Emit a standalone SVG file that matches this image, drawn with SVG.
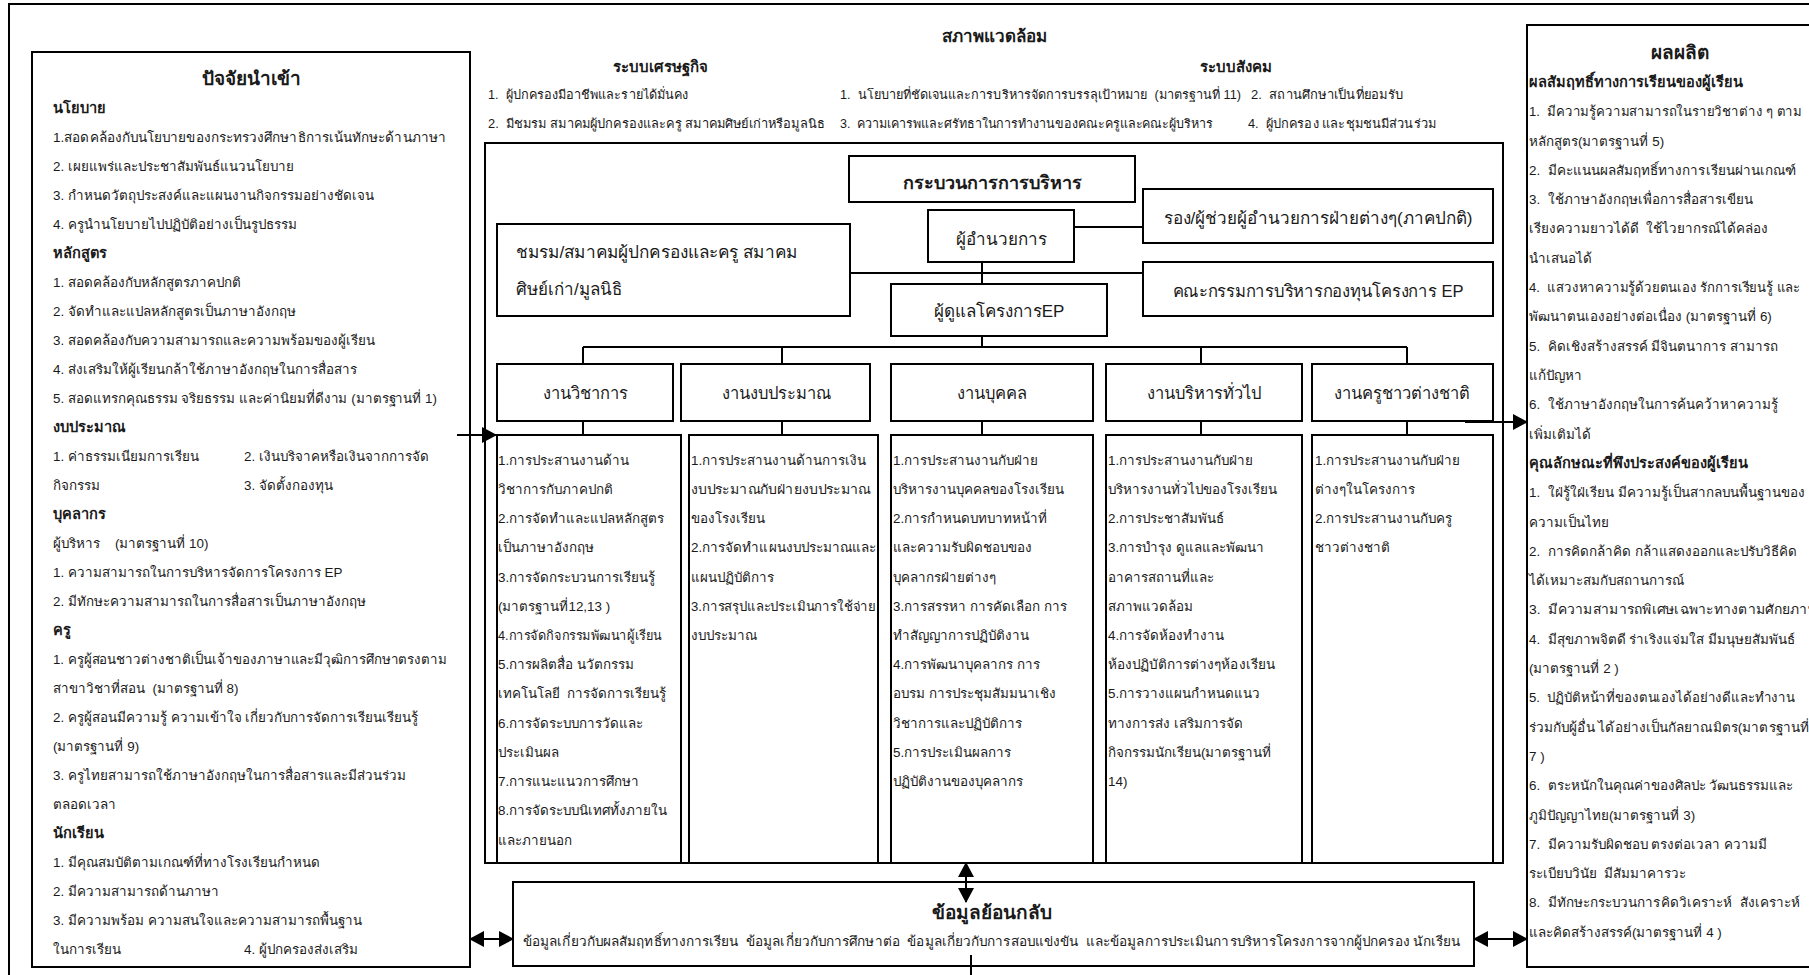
<svg xmlns="http://www.w3.org/2000/svg" width="1809" height="975" viewBox="0 0 1809 975">
<defs>
<style>
text{font-family:"Liberation Sans","Noto Sans",sans-serif;fill:#1a1a1a}
.t{font-size:13.4px}
.s{font-size:12.6px}
.h{font-size:14.6px;font-weight:bold}
.ttl{font-size:19px;font-weight:bold;text-anchor:middle}
.n{font-size:17px;text-anchor:middle}
.c{font-size:16.5px;text-anchor:middle}
.nl{font-size:17px}
.box{fill:#fff;stroke:#000;stroke-width:2}
.ln{stroke:#000;stroke-width:2;fill:none}
.ar{stroke:#000;stroke-width:2;fill:none;marker-end:url(#ah)}
.dar{stroke:#000;stroke-width:2;fill:none;marker-end:url(#ah);marker-start:url(#ah)}
</style>
<marker id="ah" markerUnits="userSpaceOnUse" markerWidth="15" markerHeight="16" refX="14" refY="8" orient="auto-start-reverse" viewBox="0 0 15 16">
<path d="M0,0 L15,8 L0,16 z" fill="#000"/>
</marker>
</defs>
<rect x="0" y="0" width="1809" height="975" fill="#fff"/>
<rect id="frame" x="9" y="4" width="1830" height="1000" class="box"/>

<g id="inputs">
<rect x="32" y="52" width="438" height="915" class="box"/>
<text x="251" y="85" class="ttl">ปัจจัยนำเข้า</text>
<text x="53" y="113" class="h">นโยบาย</text>
<text x="53" y="142" class="t" textLength="393" lengthAdjust="spacingAndGlyphs">1.สอดคล้องกับนโยบายของกระทรวงศึกษาธิการเน้นทักษะด้านภาษา</text>
<text x="53" y="171" class="t">2. เผยแพร่และประชาสัมพันธ์แนวนโยบาย</text>
<text x="53" y="200" class="t">3. กำหนดวัตถุประสงค์และแผนงานกิจกรรมอย่างชัดเจน</text>
<text x="53" y="229" class="t">4. ครูนำนโยบายไปปฏิบัติอย่างเป็นรูปธรรม</text>
<text x="53" y="258" class="h">หลักสูตร</text>
<text x="53" y="287" class="t">1. สอดคล้องกับหลักสูตรภาคปกติ</text>
<text x="53" y="316" class="t">2. จัดทำและแปลหลักสูตรเป็นภาษาอังกฤษ</text>
<text x="53" y="345" class="t">3. สอดคล้องกับความสามารถและความพร้อมของผู้เรียน</text>
<text x="53" y="374" class="t">4. ส่งเสริมให้ผู้เรียนกล้าใช้ภาษาอังกฤษในการสื่อสาร</text>
<text x="53" y="403" class="t" textLength="384" lengthAdjust="spacingAndGlyphs">5. สอดแทรกคุณธรรม จริยธรรม และค่านิยมที่ดีงาม (มาตรฐานที่ 1)</text>
<text x="53" y="432" class="h">งบประมาณ</text>
<text x="53" y="461" class="t">1. ค่าธรรมเนียมการเรียน</text>
<text x="244" y="461" class="t">2. เงินบริจาคหรือเงินจากการจัด</text>
<text x="53" y="490" class="t">กิจกรรม</text>
<text x="244" y="490" class="t">3. จัดตั้งกองทุน</text>
<text x="53" y="519" class="h">บุคลากร</text>
<text x="53" y="548" class="t" xml:space="preserve">ผู้บริหาร    (มาตรฐานที่ 10)</text>
<text x="53" y="577" class="t">1. ความสามารถในการบริหารจัดการโครงการ EP</text>
<text x="53" y="606" class="t">2. มีทักษะความสามารถในการสื่อสารเป็นภาษาอังกฤษ</text>
<text x="53" y="635" class="h">ครู</text>
<text x="53" y="664" class="t" textLength="394" lengthAdjust="spacingAndGlyphs">1. ครูผู้สอนชาวต่างชาติเป็นเจ้าของภาษาและมีวุฒิการศึกษาตรงตาม</text>
<text x="53" y="693" class="t" xml:space="preserve">สาขาวิชาที่สอน  (มาตรฐานที่ 8)</text>
<text x="53" y="722" class="t">2. ครูผู้สอนมีความรู้ ความเข้าใจ เกี่ยวกับการจัดการเรียนเรียนรู้</text>
<text x="53" y="751" class="t">(มาตรฐานที่ 9)</text>
<text x="53" y="780" class="t">3. ครูไทยสามารถใช้ภาษาอังกฤษในการสื่อสารและมีส่วนร่วม</text>
<text x="53" y="809" class="t">ตลอดเวลา</text>
<text x="53" y="838" class="h">นักเรียน</text>
<text x="53" y="867" class="t">1. มีคุณสมบัติตามเกณฑ์ที่ทางโรงเรียนกำหนด</text>
<text x="53" y="896" class="t">2. มีความสามารถด้านภาษา</text>
<text x="53" y="925" class="t">3. มีความพร้อม ความสนใจและความสามารถพื้นฐาน</text>
<text x="53" y="954" class="t">ในการเรียน</text>
<text x="244" y="954" class="t">4. ผู้ปกครองส่งเสริม</text>
</g>

<g id="environment">
<text x="994" y="42" style="font-size:17px;font-weight:bold;text-anchor:middle">สภาพแวดล้อม</text>
<text x="660" y="72" style="font-size:15px;font-weight:bold;text-anchor:middle">ระบบเศรษฐกิจ</text>
<text x="1236" y="72" style="font-size:15px;font-weight:bold;text-anchor:middle">ระบบสังคม</text>
<text x="488" y="99" class="s" xml:space="preserve" textLength="200" lengthAdjust="spacingAndGlyphs">1.  ผู้ปกครองมีอาชีพและรายได้มั่นคง</text>
<text x="840" y="99" class="s" xml:space="preserve" textLength="401" lengthAdjust="spacingAndGlyphs">1.  นโยบายที่ชัดเจนและการบริหารจัดการบรรลุเป้าหมาย  (มาตรฐานที่ 11)</text>
<text x="1251" y="99" class="s" xml:space="preserve" textLength="152" lengthAdjust="spacingAndGlyphs">2.  สถานศึกษาเป็นที่ยอมรับ</text>
<text x="488" y="128" class="s" xml:space="preserve" textLength="337" lengthAdjust="spacingAndGlyphs">2.  มีชมรม สมาคมผู้ปกครองและครู สมาคมศิษย์เก่าหรือมูลนิธ</text>
<text x="840" y="128" class="s" xml:space="preserve" textLength="373" lengthAdjust="spacingAndGlyphs">3.  ความเคารพและศรัทธาในการทำงานของคณะครูและคณะผู้บริหาร</text>
<text x="1248" y="128" class="s" xml:space="preserve" textLength="188" lengthAdjust="spacingAndGlyphs">4.  ผู้ปกครอง และชุมชนมีส่วนร่วม</text>
</g>

<g id="process">
<rect x="485" y="143" width="1018" height="720" class="box"/>
</g>

<g id="n-title">
<rect x="849" y="156" width="286" height="46" class="box"/>
<text x="992" y="189" style="font-size:18px;font-weight:bold;text-anchor:middle">กระบวนการการบริหาร</text>
</g>
<g id="n-director">
<rect x="928" y="210" width="146" height="52" class="box"/>
<text x="1001" y="245" class="n">ผู้อำนวยการ</text>
</g>
<g id="n-deputy">
<rect x="1143" y="189" width="350" height="54" class="box"/>
<text x="1318" y="224" class="n" textLength="309" lengthAdjust="spacingAndGlyphs">รอง/ผู้ช่วยผู้อำนวยการฝ่ายต่างๆ(ภาคปกติ)</text>
</g>
<g id="n-committee">
<rect x="1143" y="262" width="350" height="54" class="box"/>
<text x="1318" y="297" class="n" textLength="291" lengthAdjust="spacingAndGlyphs">คณะกรรมการบริหารกองทุนโครงการ EP</text>
</g>
<g id="n-club">
<rect x="497" y="224" width="353" height="92" class="box"/>
<text x="516" y="258" class="nl" textLength="281" lengthAdjust="spacingAndGlyphs">ชมรม/สมาคมผู้ปกครองและครู สมาคม</text>
<text x="516" y="295" class="nl">ศิษย์เก่า/มูลนิธิ</text>
</g>
<g id="n-ep">
<rect x="891" y="284" width="216" height="52" class="box"/>
<text x="999" y="317" class="n">ผู้ดูแลโครงการEP</text>
</g>

<g id="col-academic">
<rect x="497" y="364" width="176" height="57" class="box"/>
<text x="585" y="399" class="c">งานวิชาการ</text>
<rect x="497" y="435" width="184" height="428" class="box"/>
<text x="498" y="465" class="t">1.การประสานงานด้าน</text>
<text x="498" y="494" class="t">วิชาการกับภาคปกติ</text>
<text x="498" y="523" class="t">2.การจัดทำและแปลหลักสูตร</text>
<text x="498" y="552" class="t">เป็นภาษาอังกฤษ</text>
<text x="498" y="582" class="t">3.การจัดกระบวนการเรียนรู้</text>
<text x="498" y="611" class="t">(มาตรฐานที่12,13 )</text>
<text x="498" y="640" class="t" textLength="164" lengthAdjust="spacingAndGlyphs">4.การจัดกิจกรรมพัฒนาผู้เรียน</text>
<text x="498" y="669" class="t">5.การผลิตสื่อ นวัตกรรม</text>
<text x="498" y="698" class="t" xml:space="preserve">เทคโนโลยี  การจัดการเรียนรู้</text>
<text x="498" y="728" class="t">6.การจัดระบบการวัดและ</text>
<text x="498" y="757" class="t">ประเมินผล</text>
<text x="498" y="786" class="t">7.การแนะแนวการศึกษา</text>
<text x="498" y="815" class="t">8.การจัดระบบนิเทศทั้งภายใน</text>
<text x="498" y="845" class="t">และภายนอก</text>
</g>
<g id="col-budget">
<rect x="681" y="364" width="189" height="57" class="box"/>
<text x="776" y="399" class="c">งานงบประมาณ</text>
<rect x="689" y="435" width="189" height="428" class="box"/>
<text x="691" y="465" class="t">1.การประสานงานด้านการเงิน</text>
<text x="691" y="494" class="t" textLength="180" lengthAdjust="spacingAndGlyphs">งบประมาณกับฝ่ายงบประมาณ</text>
<text x="691" y="523" class="t">ของโรงเรียน</text>
<text x="691" y="552" class="t" textLength="185" lengthAdjust="spacingAndGlyphs">2.การจัดทำแผนงบประมาณและ</text>
<text x="691" y="582" class="t">แผนปฏิบัติการ</text>
<text x="691" y="611" class="t" textLength="185" lengthAdjust="spacingAndGlyphs">3.การสรุปและประเมินการใช้จ่าย</text>
<text x="691" y="640" class="t">งบประมาณ</text>
</g>
<g id="col-personnel">
<rect x="891" y="364" width="202" height="57" class="box"/>
<text x="992" y="399" class="c">งานบุคคล</text>
<rect x="891" y="435" width="202" height="428" class="box"/>
<text x="893" y="465" class="t">1.การประสานงานกับฝ่าย</text>
<text x="893" y="494" class="t">บริหารงานบุคคลของโรงเรียน</text>
<text x="893" y="523" class="t">2.การกำหนดบทบาทหน้าที่</text>
<text x="893" y="552" class="t">และความรับผิดชอบของ</text>
<text x="893" y="582" class="t">บุคลากรฝ่ายต่างๆ</text>
<text x="893" y="611" class="t">3.การสรรหา การคัดเลือก การ</text>
<text x="893" y="640" class="t">ทำสัญญาการปฏิบัติงาน</text>
<text x="893" y="669" class="t">4.การพัฒนาบุคลากร การ</text>
<text x="893" y="698" class="t">อบรม การประชุมสัมมนาเชิง</text>
<text x="893" y="728" class="t">วิชาการและปฏิบัติการ</text>
<text x="893" y="757" class="t">5.การประเมินผลการ</text>
<text x="893" y="786" class="t">ปฏิบัติงานของบุคลากร</text>
</g>
<g id="col-general">
<rect x="1106" y="364" width="196" height="57" class="box"/>
<text x="1204" y="399" class="c">งานบริหารทั่วไป</text>
<rect x="1106" y="435" width="196" height="428" class="box"/>
<text x="1108" y="465" class="t">1.การประสานงานกับฝ่าย</text>
<text x="1108" y="494" class="t">บริหารงานทั่วไปของโรงเรียน</text>
<text x="1108" y="523" class="t">2.การประชาสัมพันธ์</text>
<text x="1108" y="552" class="t">3.การบำรุง ดูแลและพัฒนา</text>
<text x="1108" y="582" class="t">อาคารสถานที่และ</text>
<text x="1108" y="611" class="t">สภาพแวดล้อม</text>
<text x="1108" y="640" class="t">4.การจัดห้องทำงาน</text>
<text x="1108" y="669" class="t" textLength="167" lengthAdjust="spacingAndGlyphs">ห้องปฏิบัติการต่างๆห้องเรียน</text>
<text x="1108" y="698" class="t">5.การวางแผนกำหนดแนว</text>
<text x="1108" y="728" class="t">ทางการส่ง เสริมการจัด</text>
<text x="1108" y="757" class="t">กิจกรรมนักเรียน(มาตรฐานที่</text>
<text x="1108" y="786" class="t">14)</text>
</g>
<g id="col-foreign">
<rect x="1312" y="364" width="181" height="57" class="box"/>
<text x="1402" y="399" class="c">งานครูชาวต่างชาติ</text>
<rect x="1312" y="435" width="181" height="428" class="box"/>
<text x="1315" y="465" class="t">1.การประสานงานกับฝ่าย</text>
<text x="1315" y="494" class="t">ต่างๆในโครงการ</text>
<text x="1315" y="523" class="t">2.การประสานงานกับครู</text>
<text x="1315" y="552" class="t">ชาวต่างชาติ</text>
</g>

<g id="feedback">
<rect x="513" y="882" width="961" height="84" class="box"/>
<text x="992" y="919" style="font-size:19px;font-weight:bold;text-anchor:middle">ข้อมูลย้อนกลับ</text>
<text x="523" y="946" class="t" xml:space="preserve" textLength="937" lengthAdjust="spacingAndGlyphs">ข้อมูลเกี่ยวกับผลสัมฤทธิ์ทางการเรียน  ข้อมูลเกี่ยวกับการศึกษาต่อ  ข้อมูลเกี่ยวกับการสอบแข่งขัน  และข้อมูลการประเมินการบริหารโครงการจากผู้ปกครอง นักเรียน</text>
</g>

<g id="outputs">
<rect x="1527" y="25" width="320" height="942" class="box"/>
<text x="1680" y="59" class="ttl">ผลผลิต</text>
<text x="1529" y="87" class="h">ผลสัมฤทธิ์ทางการเรียนของผู้เรียน</text>
<text x="1529" y="116" class="t" xml:space="preserve" textLength="273" lengthAdjust="spacingAndGlyphs">1.  มีความรู้ความสามารถในรายวิชาต่าง ๆ ตาม</text>
<text x="1529" y="146" class="t">หลักสูตร(มาตรฐานที่ 5)</text>
<text x="1529" y="175" class="t" xml:space="preserve" textLength="267" lengthAdjust="spacingAndGlyphs">2.  มีคะแนนผลสัมฤทธิ์ทางการเรียนผ่านเกณฑ์</text>
<text x="1529" y="204" class="t" xml:space="preserve">3.  ใช้ภาษาอังกฤษเพื่อการสื่อสารเขียน</text>
<text x="1529" y="233" class="t" xml:space="preserve">เรียงความยาวได้ดี  ใช้ไวยากรณ์ได้คล่อง</text>
<text x="1529" y="263" class="t">นำเสนอได้</text>
<text x="1529" y="292" class="t" xml:space="preserve" textLength="271" lengthAdjust="spacingAndGlyphs">4.  แสวงหาความรู้ด้วยตนเอง รักการเรียนรู้ และ</text>
<text x="1529" y="321" class="t">พัฒนาตนเองอย่างต่อเนื่อง (มาตรฐานที่ 6)</text>
<text x="1529" y="351" class="t" xml:space="preserve">5.  คิดเชิงสร้างสรรค์ มีจินตนาการ สามารถ</text>
<text x="1529" y="380" class="t">แก้ปัญหา</text>
<text x="1529" y="409" class="t" xml:space="preserve">6.  ใช้ภาษาอังกฤษในการค้นคว้าหาความรู้</text>
<text x="1529" y="439" class="t">เพิ่มเติมได้</text>
<text x="1529" y="468" class="h">คุณลักษณะที่พึงประสงค์ของผู้เรียน</text>
<text x="1529" y="497" class="t" xml:space="preserve" textLength="276" lengthAdjust="spacingAndGlyphs">1.  ใฝ่รู้ใฝ่เรียน มีความรู้เป็นสากลบนพื้นฐานของ</text>
<text x="1529" y="527" class="t">ความเป็นไทย</text>
<text x="1529" y="556" class="t" xml:space="preserve" textLength="268" lengthAdjust="spacingAndGlyphs">2.  การคิดกล้าคิด กล้าแสดงออกและปรับวิธีคิด</text>
<text x="1529" y="585" class="t">ได้เหมาะสมกับสถานการณ์</text>
<text x="1529" y="614" class="t" xml:space="preserve" textLength="288" lengthAdjust="spacingAndGlyphs">3.  มีความสามารถพิเศษเฉพาะทางตามศักยภาพ</text>
<text x="1529" y="644" class="t" xml:space="preserve" textLength="266" lengthAdjust="spacingAndGlyphs">4.  มีสุขภาพจิตดี ร่าเริงแจ่มใส มีมนุษยสัมพันธ์</text>
<text x="1529" y="673" class="t">(มาตรฐานที่ 2 )</text>
<text x="1529" y="702" class="t" xml:space="preserve" textLength="266" lengthAdjust="spacingAndGlyphs">5.  ปฏิบัติหน้าที่ของตนเองได้อย่างดีและทำงาน</text>
<text x="1529" y="732" class="t" textLength="280" lengthAdjust="spacingAndGlyphs">ร่วมกับผู้อื่น ได้อย่างเป็นกัลยาณมิตร(มาตรฐานที่</text>
<text x="1529" y="761" class="t">7 )</text>
<text x="1529" y="790" class="t" xml:space="preserve">6.  ตระหนักในคุณค่าของศิลปะ วัฒนธรรมและ</text>
<text x="1529" y="820" class="t">ภูมิปัญญาไทย(มาตรฐานที่ 3)</text>
<text x="1529" y="849" class="t" xml:space="preserve">7.  มีความรับผิดชอบ ตรงต่อเวลา ความมี</text>
<text x="1529" y="878" class="t" xml:space="preserve">ระเบียบวินัย  มีสัมมาคารวะ</text>
<text x="1529" y="907" class="t" xml:space="preserve" textLength="271" lengthAdjust="spacingAndGlyphs">8.  มีทักษะกระบวนการคิดวิเคราะห์  สังเคราะห์</text>
<text x="1529" y="937" class="t">และคิดสร้างสรรค์(มาตรฐานที่ 4 )</text>
</g>

<g id="connectors">
<line x1="1074" y1="227" x2="1143" y2="227" class="ln"/>
<line x1="850" y1="273" x2="1143" y2="273" class="ln"/>
<line x1="982" y1="262" x2="982" y2="284" class="ln"/>
<line x1="982" y1="336" x2="982" y2="347" class="ln"/>
<line x1="583" y1="347" x2="1407" y2="347" class="ln"/>
<line x1="583" y1="347" x2="583" y2="364" class="ln"/>
<line x1="782" y1="347" x2="782" y2="364" class="ln"/>
<line x1="1201" y1="347" x2="1201" y2="364" class="ln"/>
<line x1="1407" y1="347" x2="1407" y2="364" class="ln"/>
<line x1="583" y1="421" x2="583" y2="435" class="ln"/>
<line x1="782" y1="421" x2="782" y2="435" class="ln"/>
<line x1="982" y1="421" x2="982" y2="435" class="ln"/>
<line x1="1201" y1="421" x2="1201" y2="435" class="ln"/>
<line x1="1407" y1="421" x2="1407" y2="435" class="ln"/>
<line x1="457" y1="435" x2="496" y2="435" class="ar"/>
<line x1="1465" y1="422" x2="1527" y2="422" class="ar"/>
<line x1="470" y1="939" x2="513" y2="939" class="dar"/>
<line x1="1474" y1="939" x2="1527" y2="939" class="dar"/>
<line x1="966" y1="863" x2="966" y2="902" class="dar"/>
<line x1="971" y1="955" x2="971" y2="976" class="ln"/>
</g>
</svg>
